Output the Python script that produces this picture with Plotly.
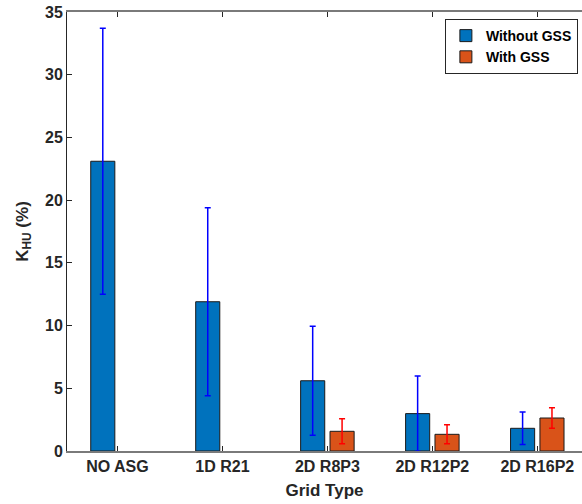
import plotly.graph_objects as go

categories = ["NO ASG", "1D R21", "2D R8P3", "2D R12P2", "2D R16P2"]
without_gss = [23.1, 11.9, 5.6, 2.98, 1.81]
without_gss_err = [10.6, 7.5, 4.35, 3.0, 1.3]
with_gss = [None, None, 1.57, 1.33, 2.63]
with_gss_err = [None, None, 1.0, 0.76, 0.81]
y_ticks = [0, 5, 10, 15, 20, 25, 30, 35]

x_pos = list(range(1, len(categories) + 1))
FONT = "Liberation Sans, Arial, sans-serif"
TXT = "#262626"

fig = go.Figure()
fig.add_trace(go.Bar(
    x=x_pos, y=without_gss, name="Without GSS",
    marker=dict(color="#0072BD", line=dict(color="#1a1a1a", width=1)),
    error_y=dict(type="data", array=without_gss_err, color="#0000FF",
                 thickness=1.5, width=3, visible=True),
))
fig.add_trace(go.Bar(
    x=x_pos, y=with_gss, name="With GSS",
    marker=dict(color="#D95319", line=dict(color="#1a1a1a", width=1)),
    error_y=dict(type="data", array=with_gss_err, color="#FF0000",
                 thickness=1.5, width=3, visible=True),
))

fig.update_layout(
    width=582, height=504,
    margin=dict(l=67, r=0, t=12, b=53, autoexpand=False),
    plot_bgcolor="white", paper_bgcolor="white",
    barmode="group", bargap=0.44, bargroupgap=0.18,
    font=dict(family=FONT, size=15, color=TXT, weight="bold"),
    showlegend=True,
    legend=dict(
        x=0.992, y=0.984, xanchor="right", yanchor="top",
        bgcolor="white", bordercolor="#262626", borderwidth=1,
        font=dict(family=FONT, size=14, color="#000000", weight="bold"),
        tracegroupgap=0, itemwidth=30,
    ),
)
fig.update_xaxes(
    range=[0.519, 5.426], tickmode="array", tickvals=x_pos, ticktext=categories,
    ticks="inside", ticklen=5, tickcolor="#262626", tickwidth=1,
    showline=True, linecolor="#7a7a7a", linewidth=1.5, mirror="ticks",
    showgrid=False, zeroline=False, automargin=False,
    tickfont=dict(family=FONT, size=16, color=TXT, weight="bold"),
    title=dict(text="Grid Type", font=dict(family=FONT, size=17, color=TXT, weight="bold"), standoff=10),
)
fig.update_yaxes(
    range=[0, 35], tickmode="array", tickvals=y_ticks,
    ticks="inside", ticklen=5, tickcolor="#262626", tickwidth=1,
    showline=True, linecolor="#262626", linewidth=1, mirror=False,
    showgrid=False, zeroline=False, automargin=False,
    tickfont=dict(family=FONT, size=16, color=TXT, weight="bold"),
    title=dict(text="K<sub>HU</sub> (%)", font=dict(family=FONT, size=17, color=TXT, weight="bold"), standoff=12),
)

fig.write_html("out.html", config={"displayModeBar": False},
               post_script="document.body.style.margin='0';document.body.style.padding='0';")
